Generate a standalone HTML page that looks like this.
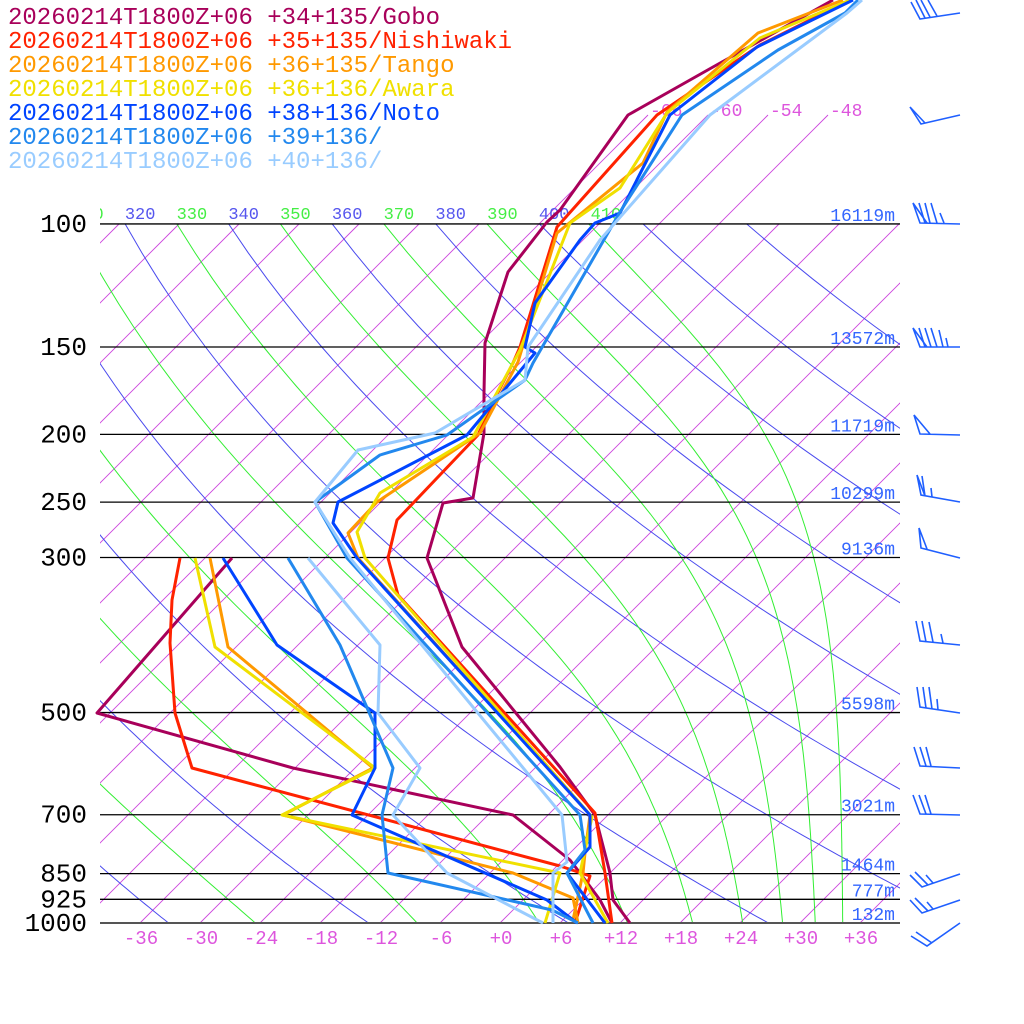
<!DOCTYPE html>
<html><head><meta charset="utf-8"><style>
html,body{margin:0;padding:0;background:#fff;}
svg{display:block;}
text{font-family:"Liberation Mono","DejaVu Sans Mono",monospace;}
</style></head><body>
<svg id="s" width="1024" height="1024" viewBox="0 0 1024 1024" xmlns="http://www.w3.org/2000/svg">
<defs><clipPath id="c"><rect x="100" y="0" width="800" height="923"/></clipPath>
<clipPath id="c2"><rect x="94" y="0" width="806" height="926"/></clipPath></defs>
<g id="grid" clip-path="url(#c)"></g>
<g id="plines"></g>
<g id="labels"></g>
<g clip-path="url(#c2)" fill="none" stroke-width="3" stroke-linejoin="round">
<polyline stroke="#a8005a" points="833,0 713,67 628,115 560,210 547,222 508,272 485,343 484,393 484,433 473,498 443,503 427,558 462,647 560,767 595,815 610,873 613,900 630,923"/>
<polyline stroke="#a8005a" points="232,558 97,713 293,768 513,815 570,860 580,873 600,900 612,923"/>
<polyline stroke="#ff2200" points="850,0 760,45 657,115 557,227 520,347 513,363 493,402 478,435 397,520 388,558 398,595 595,813 605,873 612,923"/>
<polyline stroke="#ff2200" points="180,558 172,600 170,643 175,713 192,768 560,866 590,876 575,923"/>
<polyline stroke="#ff9900" points="843,0 758,33 667,112 643,163 557,233 518,362 480,433 377,502 348,533 358,558 590,815 585,853 583,873 573,920"/>
<polyline stroke="#ff9900" points="210,558 228,647 373,768 283,815 513,873 573,898 578,923"/>
<polyline stroke="#f0e000" points="850,0 760,38 667,113 620,188 570,223 520,350 473,437 380,493 357,532 365,558 592,817 580,873 608,923"/>
<polyline stroke="#f0e000" points="195,558 215,647 375,768 282,815 560,873 545,923"/>
<polyline stroke="#0044ff" points="853,0 757,47 670,115 620,213 595,223 580,240 535,303 525,347 535,353 467,435 338,502 333,523 357,558 590,815 590,847 567,873 605,923"/>
<polyline stroke="#0044ff" points="223,558 277,645 375,713 375,768 352,815 547,900 577,923"/>
<polyline stroke="#2288ee" points="858,0 845,13 778,50 682,115 620,212 533,363 525,380 447,435 380,455 315,502 347,558 580,815 585,850 567,873 593,923"/>
<polyline stroke="#2288ee" points="288,558 340,645 393,768 382,815 388,873 552,910 578,923"/>
<polyline stroke="#99ccff" points="862,0 847,13 710,115 600,240 528,347 525,380 435,433 358,450 315,502 350,558 562,815 567,862 553,873 553,923"/>
<polyline stroke="#99ccff" points="308,558 380,645 378,713 420,768 393,815 447,873 543,923"/>
</g>
<g fill="none" stroke="#1f5fff" stroke-width="1.6">
<polyline points="960,13 920,19 911,2"/><line x1="925" y1="18" x2="916" y2="0"/><line x1="930" y1="17" x2="921" y2="0"/><line x1="937" y1="16" x2="928" y2="0"/>
<polyline points="960,115 921,124 910,107 925,123"/>
<polyline points="960,224 920,223 913,203 927,223"/><line x1="925" y1="223" x2="919" y2="203"/><line x1="930" y1="223" x2="925" y2="203"/><line x1="937" y1="223" x2="931" y2="203"/><line x1="944" y1="223" x2="940" y2="213"/>
<polyline points="960,347 920,347 913,328 927,347"/><line x1="925" y1="347" x2="919" y2="328"/><line x1="931" y1="347" x2="925" y2="328"/><line x1="937" y1="347" x2="931" y2="328"/><line x1="943" y1="347" x2="939" y2="330"/><line x1="948" y1="347" x2="946" y2="338"/>
<polyline points="960,435 920,434 914,415 930,434"/>
<polyline points="960,502 921,495 917,475 925,496"/><line x1="925" y1="496" x2="922" y2="476"/><line x1="932" y1="497" x2="931" y2="488"/>
<polyline points="960,558 921,548 919,528 927,549"/>
<polyline points="960,645 920,641 916,621"/><line x1="926" y1="642" x2="922" y2="621"/><line x1="933" y1="642" x2="929" y2="622"/><line x1="943" y1="643" x2="941" y2="634"/>
<polyline points="960,713 920,707 917,687"/><line x1="926" y1="708" x2="923" y2="687"/><line x1="932" y1="709" x2="929" y2="687"/><line x1="938" y1="710" x2="937" y2="699"/>
<polyline points="960,768 920,766 914,747"/><line x1="926" y1="766" x2="920" y2="747"/><line x1="931" y1="766" x2="926" y2="747"/>
<polyline points="960,815 920,814 913,795"/><line x1="926" y1="814" x2="919" y2="795"/><line x1="931" y1="814" x2="925" y2="795"/>
<polyline points="960,874 922,887 910,875"/><line x1="928" y1="885" x2="915" y2="872"/><line x1="933" y1="883" x2="926" y2="875"/>
<polyline points="960,900 922,913 910,900"/><line x1="928" y1="911" x2="915" y2="898"/><line x1="933" y1="909" x2="927" y2="902"/>
<polyline points="960,923 927,946 911,936"/><line x1="932" y1="943" x2="916" y2="932"/>
</g>
<g font-size="24">
<text x="8" y="24" fill="#a8005a">20260214T1800Z+06 +34+135/Gobo</text>
<text x="8" y="48" fill="#ff2200">20260214T1800Z+06 +35+135/Nishiwaki</text>
<text x="8" y="72" fill="#ff9900">20260214T1800Z+06 +36+135/Tango</text>
<text x="8" y="96" fill="#f0e000">20260214T1800Z+06 +36+136/Awara</text>
<text x="8" y="120" fill="#0044ff">20260214T1800Z+06 +38+136/Noto</text>
<text x="8" y="144" fill="#2288ee">20260214T1800Z+06 +39+136/</text>
<text x="8" y="168" fill="#99ccff">20260214T1800Z+06 +40+136/</text>
</g>
</svg>
<script>
(function(){
var NS="http://www.w3.org/2000/svg";
function el(par,tag,attrs,txt){var e=document.createElementNS(NS,tag);for(var k in attrs)e.setAttribute(k,attrs[k]);if(txt!==undefined)e.textContent=txt;document.getElementById(par).appendChild(e);return e;}
function Y(p){return 923-303.6*Math.log(1000/p);}
function X(T,y){return 500+10*T+(923-y);}
for(var T=-150;T<=60;T+=6){
  var ytop=224;
  if(T>=-66&&T<=-48) ytop=115;
  el("grid","line",{x1:X(T,923),y1:923,x2:X(T,ytop),y2:ytop,stroke:"#cc44dd","stroke-width":0.9});
}
function poly(fn,col){
  var pts=[];
  for(var p=1000;p>=100;p-=10){var Tc=fn(p);if(Tc===null)continue;var y=Y(p);pts.push(X(Tc,y).toFixed(1)+","+y.toFixed(1));}
  el("grid","polyline",{points:pts.join(" "),fill:"none",stroke:col,"stroke-width":1});
}
for(var th=200;th<=440;th+=20){(function(th){poly(function(p){return th*Math.pow(p/1000,0.2857)-273.15;},"#4a4aee");})(th);}
function es(Tc){return 6.112*Math.exp(17.67*Tc/(Tc+243.5));}
function thetaE(TK,p){var e=es(TK-273.15);var q=0.622*e/(p-e);if(q<0||q>0.2)q=0.2;return TK*Math.pow(1000/p,0.2857)*Math.exp(2.5e6*q/(1004*TK));}
for(var te=250;te<=410;te+=20){(function(te){poly(function(p){
  var lo=120,hi=330;
  if(thetaE(hi,p)<te) return null;
  for(var i=0;i<50;i++){var m=(lo+hi)/2;if(thetaE(m,p)<te)lo=m;else hi=m;}
  return (lo+hi)/2-273.15;},"#33ee33");})(te);}
var P=[[100,"16119m"],[150,"13572m"],[200,"11719m"],[250,"10299m"],[300,"9136m"],[500,"5598m"],[700,"3021m"],[850,"1464m"],[925,"777m"],[1000,"132m"]];
P.forEach(function(a){var y=Y(a[0]);
  el("plines","line",{x1:100,y1:y,x2:900,y2:y,stroke:a[0]==1000?"#555":"#000","stroke-width":a[0]==1000?2:1.3});
  el("labels","text",{x:87,y:y+8,"font-size":26,"text-anchor":"end",fill:"#000"},String(a[0]));
  el("labels","text",{x:895,y:y-3,"font-size":18,"text-anchor":"end",fill:"#3366ff"},a[1]);
});
for(var t=-36;t<=36;t+=6){
  el("labels","text",{x:X(t,923)+1,y:944,"font-size":19,"text-anchor":"middle",fill:"#dd55dd"},(t>=0?"+":"")+t);
}
[-66,-60,-54,-48].forEach(function(t){el("labels","text",{x:X(t,115)+2,y:116,"font-size":18,fill:"#dd55dd"},String(t));});
var g=document.createElementNS(NS,"g");g.setAttribute("clip-path","url(#c)");g.id="thl";document.getElementById("labels").appendChild(g);
for(var v=310;v<=410;v+=10){
  var x=500+10*(v*0.5176-273.15)+699;
  el("thl","text",{x:x+1,y:219,"font-size":17,fill:(v%20==10)?"#44ee44":"#5555ee"},String(v));
}
})();
</script>
</body></html>
